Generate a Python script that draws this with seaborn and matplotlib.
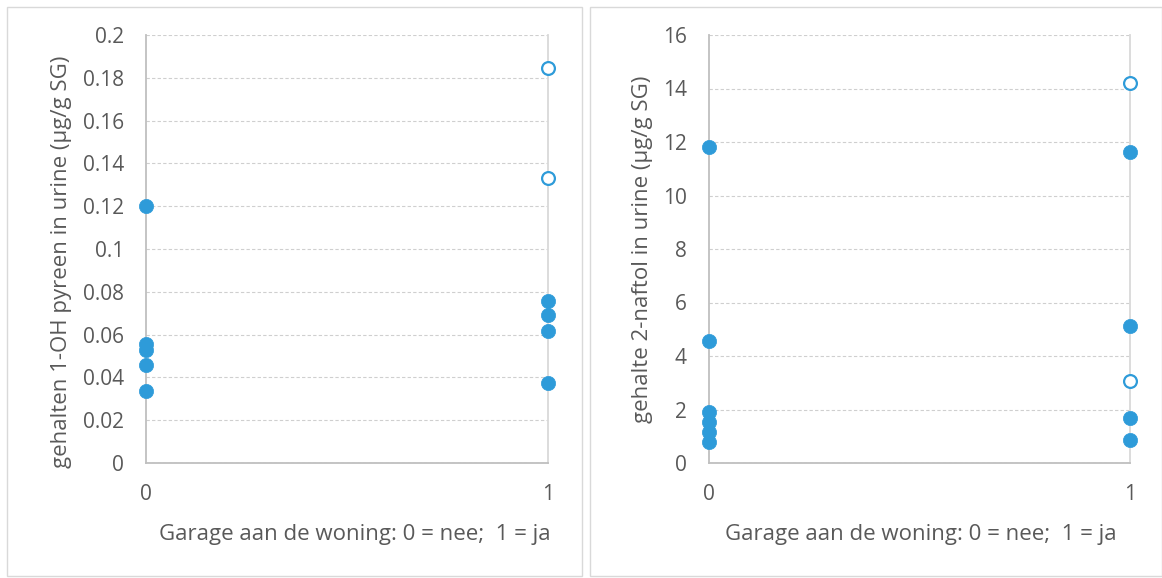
import matplotlib
matplotlib.use("Agg")
import matplotlib.pyplot as plt
from matplotlib.patches import Rectangle
from matplotlib.ticker import FuncFormatter, MultipleLocator
import seaborn as sns
import pandas as pd

sns.set_theme(style="white")
plt.rcParams["font.family"] = ["Open Sans", "DejaVu Sans"]

# 1-OH pyreen (µg/g SG) by garage (0 = nee, 1 = ja)
pyreen_garage = [0, 0, 0, 0, 0, 1, 1, 1, 1, 1, 1]
pyreen_value = [0.120, 0.0558, 0.0526, 0.0458, 0.0336,
                0.1846, 0.1332, 0.0757, 0.0692, 0.0617, 0.0374]
pyreen_open = [False, False, False, False, False,
               True, True, False, False, False, False]

# 2-naftol (µg/g SG) by garage
naftol_garage = [0, 0, 0, 0, 0, 0, 1, 1, 1, 1, 1, 1]
naftol_value = [11.81, 4.56, 1.91, 1.53, 1.16, 0.79,
                14.22, 11.64, 5.13, 3.07, 1.69, 0.86]
naftol_open = [False, False, False, False, False, False,
               True, False, False, True, False, False]

x_label = "Garage aan de woning: 0 = nee;  1 = ja"
y_labels = ["gehalten 1-OH pyreen in urine (µg/g SG)",
            "gehalte 2-naftol in urine (µg/g SG)"]

BLUE = "#2E9BD9"
TEXT = "#595959"
GRID = "#CFCFCF"
AXIS = "#BFBFBF"

fig = plt.figure(figsize=(11.62, 5.78), dpi=100)

# chart-area frames
for x0, x1 in [(7, 582), (590, 1162)]:
    fig.patches.append(Rectangle((x0 / 1162, 2 / 578), (x1 - x0) / 1162, 569 / 578,
                                 transform=fig.transFigure, fill=False,
                                 edgecolor="#D9D9D9", linewidth=1.0))

panels = [
    dict(rect=[146 / 1162, 115 / 578, 402 / 1162, 428 / 578],
         g=pyreen_garage, v=pyreen_value, o=pyreen_open,
         ymax=0.2, step=0.02, ylab=y_labels[0], ylx=-0.209, yly=0.47, xlx=0.52),
    dict(rect=[709 / 1162, 115 / 578, 421 / 1162, 428 / 578],
         g=naftol_garage, v=naftol_value, o=naftol_open,
         ymax=16, step=2, ylab=y_labels[1], ylx=-0.157, yly=0.5, xlx=0.504),
]

for p in panels:
    ax = fig.add_axes(p["rect"])
    df = pd.DataFrame({"garage": p["g"], "value": p["v"], "open": p["o"]})
    filled = df[~df["open"]]
    hollow = df[df["open"]]
    sns.scatterplot(data=filled, x="garage", y="value", ax=ax, s=105,
                    color=BLUE, edgecolor=BLUE, linewidth=0.5, clip_on=False, zorder=5)
    sns.scatterplot(data=hollow, x="garage", y="value", ax=ax, s=85,
                    facecolor="white", edgecolor=BLUE, linewidth=1.6,
                    clip_on=False, zorder=5)
    ax.set_xlim(0, 1)
    ax.set_ylim(0, p["ymax"])
    ax.set_xticks([0, 1])
    ax.yaxis.set_major_locator(MultipleLocator(p["step"]))
    ax.yaxis.set_major_formatter(FuncFormatter(lambda v, _: f"{round(v, 6):g}"))
    ax.yaxis.grid(True, color=GRID, linestyle=(0, (3, 2)), linewidth=0.8)
    ax.xaxis.grid(False)
    ax.set_axisbelow(True)
    for side in ["left", "bottom"]:
        ax.spines[side].set_color(AXIS)
        ax.spines[side].set_linewidth(1.3)
    ax.spines["right"].set_color("#D9D9D9")
    ax.spines["right"].set_linewidth(1.3)
    ax.spines["top"].set_visible(False)
    ax.tick_params(axis="both", length=0, labelsize=15, labelcolor=TEXT)
    ax.tick_params(axis="y", pad=16)
    ax.tick_params(axis="x", pad=15)
    ax.set_xlabel(x_label, fontsize=16, color=TEXT)
    ax.xaxis.set_label_coords(p["xlx"], -0.168)
    ax.xaxis.label.set_va("center")
    ax.set_ylabel(p["ylab"], fontsize=16, color=TEXT)
    ax.yaxis.set_label_coords(p["ylx"], p["yly"])
    ax.yaxis.label.set_va("center")
    ax.set_facecolor("white")

fig.savefig("out.png", dpi=100, facecolor="white")
